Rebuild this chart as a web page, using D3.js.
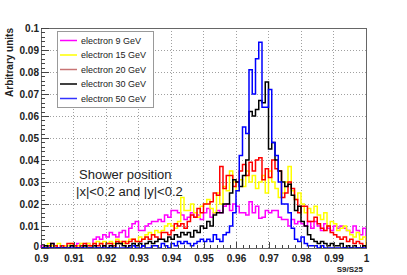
<!DOCTYPE html>
<html>
<head>
<meta charset="utf-8">
<script src="https://cdn.jsdelivr.net/npm/d3@7"></script>
<style>
  body { margin: 0; background: #fff; }
  svg { display: block; font-family: "Liberation Sans", Arial, sans-serif; }
</style>
</head>
<body>
<svg id="chart" width="407" height="275"></svg>
<script>
// bins: 100 bins of width 0.001 from 0.9 to 1.0
var binLo = 0.9, binW = 0.001;

var e9 = [
  0.001,0,0.001,0.002,0.001,0,0.001,0.001,0,0.001,
  0.001,0.002,0.001,0.001,0.002,0.001,0.004,0.005,0.004,0.006,
  0.005,0.007,0.006,0.005,0.007,0.008,0.005,0.009,0.011,0.012,
  0.008,0.008,0.010,0.011,0.012,0.012,0.013,0.012,0.015,0.014,
  0.017,0.017,0.016,0.015,0.013,0.014,0.016,0.014,0.015,0.013,
  0.016,0.018,0.014,0.016,0.017,0.016,0.019,0.020,0.017,0.020,
  0.019,0.016,0.016,0.015,0.021,0.016,0.019,0.0135,0.014,0.017,
  0.016,0.017,0.017,0.014,0.013,0.013,0.010,0.013,0.011,0.012,
  0.011,0.010,0.012,0.009,0.012,0.010,0.008,0.011,0.009,0.008,
  0.010,0.009,0.010,0.009,0.008,0.007,0.010,0.008,0.006,0.009
];
var e15 = [
  0,0.001,0.002,0.001,0.001,0.002,0,0.001,0.001,0.002,
  0.001,0.001,0.002,0.001,0.002,0.001,0.002,0.003,0.002,0.003,
  0.002,0.003,0.002,0.004,0.003,0.002,0.003,0.004,0.004,0.003,
  0.005,0.004,0.006,0.007,0.006,0.008,0.007,0.008,0.010,0.011,
  0.010,0.009,0.012,0.023,0.017,0.017,0.020,0.016,0.014,0.019,
  0.020,0.022,0.018,0.016,0.025,0.020,0.028,0.026,0.035,0.030,
  0.026,0.031,0.028,0.035,0.030,0.033,0.027,0.030,0.033,0.025,
  0.035,0.030,0.027,0.023,0.025,0.030,0.037,0.026,0.022,0.025,
  0.020,0.016,0.018,0.016,0.019,0.015,0.013,0.016,0.010,0.012,
  0.011,0.008,0.009,0.010,0.008,0.006,0.005,0.007,0.004,0.005
];
var e20 = [
  0,0,0.001,0,0.001,0,0.001,0,0.002,0.002,
  0.001,0,0.001,0.002,0.001,0.001,0.002,0.001,0.002,0.001,
  0.002,0.002,0.001,0.003,0.002,0.003,0.002,0.003,0.004,0.003,
  0.003,0.004,0.005,0.004,0.006,0.005,0.004,0.007,0.007,0.006,
  0.008,0.011,0.010,0.011,0.009,0.012,0.015,0.014,0.018,0.016,
  0.020,0.020,0.021,0.025,0.024,0.037,0.027,0.033,0.033,0.028,
  0.030,0.035,0.038,0.033,0.039,0.035,0.040,0.041,0.031,0.036,
  0.032,0.040,0.036,0.035,0.023,0.025,0.030,0.027,0.022,0.016,
  0.019,0.019,0.012,0.012,0.014,0.011,0.009,0.008,0.010,0.007,
  0.006,0.005,0.004,0.005,0.003,0.004,0.002,0.003,0.002,0.001
];
var e30 = [
  0,0.001,0,0.002,0,0,0,0,0,0.001,
  0,0,0,0.001,0,0,0.001,0,0,0.001,
  0,0.001,0,0.002,0.002,0.001,0,0.001,0.002,0.001,
  0.002,0.001,0.002,0.003,0.002,0.003,0.004,0.004,0.003,0.005,
  0.004,0.006,0.005,0.007,0.006,0.007,0.005,0.008,0.007,0.010,
  0.009,0.012,0.010,0.015,0.016,0.016,0.020,0.020,0.025,0.031,
  0.030,0.028,0.033,0.040,0.062,0.060,0.063,0.067,0.066,0.0755,
  0.045,0.048,0.040,0.035,0.030,0.028,0.029,0.024,0.017,0.019,
  0.012,0.010,0.006,0.004,0.003,0.002,0.003,0.002,0.001,0.002,
  0.001,0.001,0.002,0,0.001,0,0.001,0,0,0.001
];
var e50 = [
  0,0,0,0,0,0,0,0,0,0,
  0,0,0,0,0,0,0,0,0,0,
  0,0,0,0,0,0,0,0,0.001,0,
  0,0.001,0,0,0.001,0.001,0,0.002,0.001,0,
  0.002,0.001,0.003,0.002,0.003,0.002,0.001,0.002,0.003,0.004,
  0.003,0.004,0.003,0.006,0.004,0.003,0.006,0.007,0.010,0.016,
  0.026,0.042,0.055,0.052,0.081,0.070,0.086,0.0935,0.064,0.064,
  0.072,0.048,0.042,0.030,0.020,0.020,0.016,0.009,0.004,0.003,
  0.005,0.002,0.001,0.001,0.001,0,0.001,0,0,0,
  0,0,0,0,0,0,0,0,0,0
];

var seriesNames = ["electron 9 GeV", "electron 15 GeV", "electron 20 GeV", "electron 30 GeV", "electron 50 GeV"];
var seriesData = [e9, e15, e20, e30, e50];
var seriesColors = ["#ff00ff", "#ffff00", "#ff0000", "#000000", "#0000ff"];
var legendColors = ["#ff00ff", "#ffff00", "#c87474", "#000000", "#3333ff"];

var xTicks = [0.9, 0.91, 0.92, 0.93, 0.94, 0.95, 0.96, 0.97, 0.98, 0.99, 1];
var yTicks = [0, 0.01, 0.02, 0.03, 0.04, 0.05, 0.06, 0.07, 0.08, 0.09, 0.1];

var plotLeft = 41, plotRight = 366, plotTop = 28, plotBottom = 248;

var svg = d3.select("#chart");

var x = d3.scaleLinear().domain([0.9, 1.0]).range([plotLeft, plotRight]);
var y = d3.scaleLinear().domain([0, 0.1]).range([plotBottom, plotTop]);

// grid
var grid = svg.append("g").attr("class", "grid");
grid.selectAll("line.gx").data(xTicks.slice(1, -1)).enter().append("line")
  .attr("x1", function(d){ return x(d); }).attr("x2", function(d){ return x(d); })
  .attr("y1", plotTop).attr("y2", plotBottom);
grid.selectAll("line.gy").data(yTicks.slice(1, -1)).enter().append("line")
  .attr("y1", function(d){ return y(d); }).attr("y2", function(d){ return y(d); })
  .attr("x1", plotLeft).attr("x2", plotRight);
grid.selectAll("line")
  .style("stroke", "#a0a0a0")
  .style("stroke-width", 1)
  .style("stroke-dasharray", "1,2")
  .attr("shape-rendering", "crispEdges");

// histograms
var line = d3.line()
  .x(function(d){ return x(d[0]); })
  .y(function(d){ return y(d[1]); })
  .curve(d3.curveStepAfter);

function histPoints(vals) {
  var pts = [[binLo, 0]];
  vals.forEach(function(v, i){ pts.push([binLo + i * binW, v]); });
  pts.push([binLo + vals.length * binW, vals[vals.length - 1]]);
  pts.push([binLo + vals.length * binW, 0]);
  return pts;
}

svg.append("g").attr("class", "hists")
  .selectAll("path")
  .data(seriesData)
  .enter()
  .append("path")
  .attr("d", function(d){ return line(histPoints(d)); })
  .style("fill", "none")
  .style("stroke", function(d, i){ return seriesColors[i]; })
  .style("stroke-width", 1.5);

// frame
svg.append("rect")
  .attr("x", plotLeft).attr("y", plotTop)
  .attr("width", plotRight - plotLeft).attr("height", plotBottom - plotTop)
  .style("fill", "none")
  .style("stroke", "#666")
  .style("stroke-width", 1)
  .attr("shape-rendering", "crispEdges");

// y axis
var minorY = d3.range(0, 0.1001, 0.002);
svg.append("g")
  .attr("transform", "translate(" + plotLeft + ",0)")
  .call(d3.axisLeft(y).tickValues(minorY).tickSize(-4).tickSizeOuter(0).tickFormat(""))
  .call(function(g){ g.select(".domain").remove(); });
var yAxis = svg.append("g")
  .attr("transform", "translate(" + plotLeft + ",0)")
  .call(d3.axisLeft(y).tickValues(yTicks).tickSize(-8).tickSizeOuter(0).tickPadding(2)
    .tickFormat(function(d){ return d3.format("")(+d.toFixed(2)); }));
yAxis.select(".domain").remove();
// lift the "0" label a touch so it clears "0.9" below it
yAxis.selectAll(".tick text").filter(function(d){ return d === 0; }).attr("dy", "0.15em");

// x axis
var minorX = d3.range(0.9, 1.0001, 0.002);
svg.append("g")
  .attr("transform", "translate(0," + plotBottom + ")")
  .call(d3.axisBottom(x).tickValues(minorX).tickSize(-3).tickSizeOuter(0).tickFormat(""))
  .call(function(g){ g.select(".domain").remove(); });
var xAxis = svg.append("g")
  .attr("transform", "translate(0," + plotBottom + ")")
  .call(d3.axisBottom(x).tickValues(xTicks).tickSize(-6).tickSizeOuter(0).tickPadding(7)
    .tickFormat(function(d){ return d3.format("")(+d.toFixed(2)); }));
xAxis.select(".domain").remove();

svg.selectAll(".tick line").style("stroke", "#444").attr("shape-rendering", "crispEdges");
svg.selectAll(".tick text")
  .style("font-family", "'Liberation Sans', Arial, sans-serif")
  .style("font-size", "10px")
  .style("font-weight", "bold")
  .style("fill", "#222");

// axis titles
svg.append("text")
  .attr("transform", "translate(13," + plotTop + ") rotate(-90)")
  .attr("text-anchor", "end")
  .style("font-size", "10px")
  .style("font-weight", "bold")
  .style("fill", "#222")
  .text("Arbitrary units");

svg.append("text")
  .attr("x", 363).attr("y", 272)
  .attr("text-anchor", "end")
  .style("font-size", "8px")
  .style("font-weight", "bold")
  .style("fill", "#222")
  .text("S9/S25");

// annotation
var note = svg.append("g").style("font-size", "13px").style("fill", "#222");
note.append("text").attr("x", 79).attr("y", 179).text("Shower position");
note.append("text").attr("x", 76).attr("y", 196).text("|x|<0.2 and |y|<0.2");

// legend
var legend = svg.append("g").attr("class", "legend");
legend.append("rect")
  .attr("x", 57.5).attr("y", 31.5).attr("width", 96).attr("height", 76)
  .style("fill", "#fff").style("stroke", "#999").style("stroke-width", 1);
var items = legend.selectAll("g.item").data(seriesNames).enter().append("g")
  .attr("transform", function(d, i){ return "translate(0," + (40.5 + i * 14.5) + ")"; });
items.append("line")
  .attr("x1", 60).attr("x2", 77).attr("y1", 0).attr("y2", 0)
  .style("stroke", function(d, i){ return legendColors[i]; })
  .style("stroke-width", 1.5);
items.append("text")
  .attr("x", 81).attr("y", 3.2)
  .style("font-size", "9px")
  .style("fill", "#222")
  .text(function(d){ return d; });
</script>
</body>
</html>
